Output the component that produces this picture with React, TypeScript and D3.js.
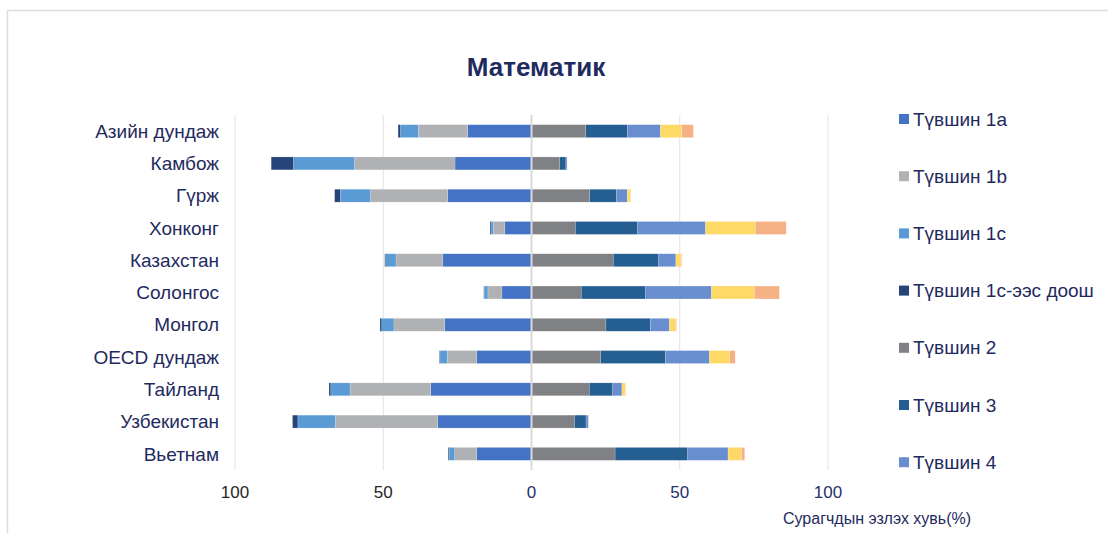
import React from "react";
import * as d3 from "d3";

const categories = [
  "Азийн дундаж", "Камбож", "Гүрж", "Хонконг", "Казахстан", "Солонгос",
  "Монгол", "OECD дундаж", "Тайланд", "Узбекистан", "Вьетнам",
];

// below-baseline levels (plotted to the left)
const level1a = [21.5, 25.8, 28.3, 9.0, 30.0, 10.0, 29.3, 18.5, 34.0, 31.6, 18.5];
const level1b = [16.7, 33.9, 26.0, 3.9, 15.7, 4.7, 17.1, 9.9, 27.2, 34.6, 7.4];
const level1c = [6.0, 20.6, 10.2, 0.8, 3.5, 1.3, 4.1, 2.5, 6.5, 12.6, 1.9];
const levelBelow1c = [0.8, 7.5, 1.9, 0.3, 0.3, 0.1, 0.6, 0.2, 0.6, 1.8, 0.3];
// at/above-baseline levels (plotted to the right)
const level2 = [18.3, 9.5, 19.6, 14.8, 27.6, 16.8, 25.1, 23.3, 19.5, 14.5, 28.2];
const level3 = [14.1, 2.1, 9.1, 21.0, 15.3, 21.7, 15.0, 21.9, 7.9, 3.9, 24.5];
const level4 = [11.1, 0.4, 3.6, 22.9, 5.8, 22.2, 6.4, 14.8, 3.1, 0.8, 13.6];
const level5 = [7.2, 0.0, 1.1, 16.8, 1.7, 14.5, 2.2, 6.8, 1.1, 0.1, 4.5];
const level6 = [3.9, 0.0, 0.1, 10.4, 0.2, 8.4, 0.2, 1.9, 0.1, 0.0, 1.1];

const xTicks = [-100, -50, 0, 50, 100];

const seriesKeys = ["1a", "1b", "1c", "below", "2", "3", "4", "5", "6"];
const seriesNames: Record<string, string> = {
  "1a": "Түвшин 1a",
  "1b": "Түвшин 1b",
  "1c": "Түвшин 1c",
  below: "Түвшин 1c-ээс доош",
  "2": "Түвшин 2",
  "3": "Түвшин 3",
  "4": "Түвшин 4",
  "5": "Түвшин 5",
  "6": "Түвшин 6",
};
const legendKeys = ["1a", "1b", "1c", "below", "2", "3", "4"];
const colors: Record<string, string> = {
  "1a": "#4472C4",
  "1b": "#B0B1B4",
  "1c": "#5B9BD5",
  below: "#264478",
  "2": "#808185",
  "3": "#255E91",
  "4": "#698ED0",
  "5": "#FFD966",
  "6": "#F4B183",
};

const rows = categories.map((c, i) => ({
  cat: c,
  "1a": -level1a[i],
  "1b": -level1b[i],
  "1c": -level1c[i],
  below: -levelBelow1c[i],
  "2": level2[i],
  "3": level3[i],
  "4": level4[i],
  "5": level5[i],
  "6": level6[i],
}));

const W = 1108;
const H = 533;
const navy = "#1F2A5E";
const font = "'Liberation Sans', Arial, sans-serif";

export default function App() {
  const x = d3.scaleLinear().domain([-100, 100]).range([235, 828]);
  const y = d3
    .scaleBand<string>()
    .domain(categories)
    .range([115, 470])
    .paddingInner(0.6)
    .paddingOuter(0.3);

  const stack = d3
    .stack<any>()
    .keys(seriesKeys)
    .offset(d3.stackOffsetDiverging);
  const series = stack(rows as any);

  return (
    <svg
      width={W}
      height={H}
      style={{ position: "absolute", left: 0, top: 0, background: "#fff" }}
      fontFamily={font}
    >
      {/* frame */}
      <line x1={7.5} y1={10.5} x2={W} y2={10.5} stroke="#DCDCDC" strokeWidth={1.5} />
      <line x1={7.5} y1={10.5} x2={7.5} y2={H} stroke="#DCDCDC" strokeWidth={1.5} />

      <text x={536} y={76} textAnchor="middle" fontSize={26} fontWeight="bold" fill={navy}>
        Математик
      </text>

      {/* gridlines */}
      {xTicks.filter((t) => t !== 0).map((t) => (
        <line key={t} x1={x(t)} x2={x(t)} y1={115} y2={470} stroke="#E2E2E2" strokeWidth={1} />
      ))}

      {/* bars */}
      {series.map((s) => (
        <g key={s.key} fill={colors[s.key]}>
          {s.map((d, i) => {
            const x0 = x(Math.min(d[0], d[1]));
            const x1 = x(Math.max(d[0], d[1]));
            if (x1 - x0 <= 0) return null;
            return (
              <rect
                key={i}
                x={x0}
                y={y(categories[i])}
                width={x1 - x0}
                height={y.bandwidth()}
                stroke="#ffffff"
                strokeOpacity={0.35}
                strokeWidth={0.5}
              />
            );
          })}
        </g>
      ))}

      {/* zero line */}
      <line x1={x(0)} x2={x(0)} y1={115} y2={470} stroke="#D9D9D9" strokeWidth={2} />

      {/* category labels */}
      {categories.map((c) => (
        <text
          key={c}
          x={219}
          y={(y(c) as number) + y.bandwidth() / 2}
          dy="0.35em"
          textAnchor="end"
          fontSize={19}
          fill={navy}
        >
          {c}
        </text>
      ))}

      {/* x tick labels */}
      {xTicks.map((t) => (
        <text
          key={t}
          x={x(t)}
          y={492}
          dy="0.35em"
          textAnchor="middle"
          fontSize={17}
          fill={t < 0 ? "#262626" : "#27306A"}
        >
          {Math.abs(t)}
        </text>
      ))}

      <text x={877} y={518} dy="0.35em" textAnchor="middle" fontSize={16} fill={navy}>
        Сурагчдын эзлэх хувь(%)
      </text>

      {/* legend */}
      {legendKeys.map((k, i) => {
        const ly = 119 + i * 57.2;
        return (
          <g key={k}>
            <rect x={899} y={ly - 5} width={10} height={10} fill={colors[k]} />
            <text x={913} y={ly} dy="0.35em" fontSize={19} fill={navy}>
              {seriesNames[k]}
            </text>
          </g>
        );
      })}
    </svg>
  );
}
